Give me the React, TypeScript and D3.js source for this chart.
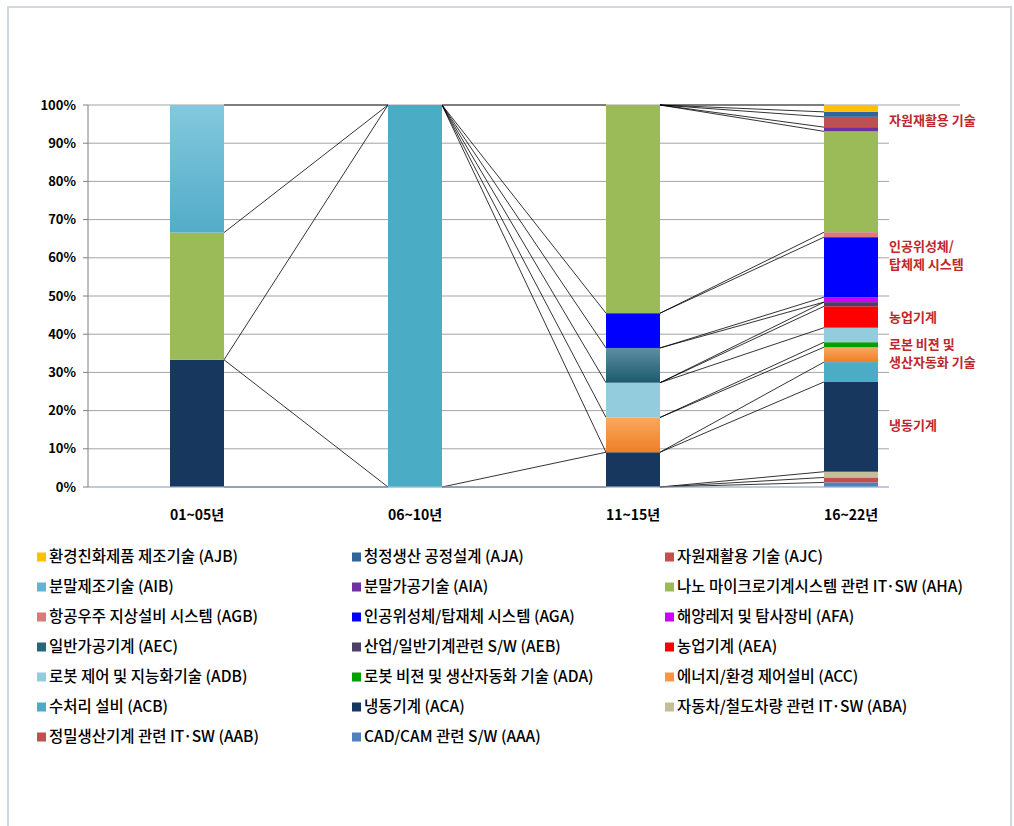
import React from "react";
import * as d3 from "d3";

// ---------- data ----------
const periods = ["01~05년", "06~10년", "11~15년", "16~22년"];

// legend order (row-major, 3 columns)
const seriesCodes = [
  "AJB", "AJA", "AJC", "AIB", "AIA", "AHA", "AGB", "AGA", "AFA", "AEC",
  "AEB", "AEA", "ADB", "ADA", "ACC", "ACB", "ACA", "ABA", "AAB", "AAA",
];
const seriesNames = [
  "환경친화제품 제조기술", "청정생산 공정설계", "자원재활용 기술",
  "분말제조기술", "분말가공기술", "나노 마이크로기계시스템 관련 IT·SW",
  "항공우주 지상설비 시스템", "인공위성체/탑재체 시스템", "해양레저 및 탐사장비",
  "일반가공기계", "산업/일반기계관련 S/W", "농업기계",
  "로봇 제어 및 지능화기술", "로봇 비젼 및 생산자동화 기술", "에너지/환경 제어설비",
  "수처리 설비", "냉동기계", "자동차/철도차량 관련 IT·SW",
  "정밀생산기계 관련 IT·SW", "CAD/CAM 관련 S/W",
];

// share (%) of each series per period, same order as seriesCodes
const share0105 = [0, 0, 0, 33.4, 0, 33.3, 0, 0, 0, 0, 0, 0, 0, 0, 0, 0, 33.3, 0, 0, 0];
const share0610 = [0, 0, 0, 0, 0, 0, 0, 0, 0, 0, 0, 0, 0, 0, 0, 100, 0, 0, 0, 0];
const share1115 = [0, 0, 0, 0, 0, 54.5, 0, 9.1, 0, 9.1, 0, 0, 9.1, 0, 9.1, 0, 9.1, 0, 0, 0];
const share1622 = [1.8, 1.3, 2.7, 0, 1.1, 26.4, 1.3, 15.7, 1.3, 0, 1.1, 5.6, 3.8, 1.3, 3.9, 5.2, 23.5, 1.5, 1.3, 1.2];
const shares = [share0105, share0610, share1115, share1622];

const yTicks = [0, 10, 20, 30, 40, 50, 60, 70, 80, 90, 100];

// call-out labels at the right of the last bar (y in %)
const calloutLines = [
  ["자원재활용 기술"],
  ["인공위성체/", "탑체제 시스템"],
  ["농업기계"],
  ["로본 비젼 및", "생산자동화 기술"],
  ["냉동기계"],
];
const calloutY = [96, 60.5, 44.5, 35, 16];

// ---------- styles ----------
const colors: Record<string, string> = {
  AJB: "#ffc000", AJA: "#31649b", AJC: "#c0504d", AIB: "url(#g-AIB)",
  AIA: "#7030a0", AHA: "#9bbb59", AGB: "#d97b7a", AGA: "#0000ff",
  AFA: "#cc00ff", AEC: "url(#g-AEC)", AEB: "#4d3f66", AEA: "#ff0000",
  ADB: "#93cddd", ADA: "#00a000", ACC: "url(#g-ACC)", ACB: "#4bacc6",
  ACA: "#17375e", ABA: "#c4bd97", AAB: "#c0504d", AAA: "#4f81bd",
};
const swatch: Record<string, string> = {
  ...colors, AIB: "#5fb6d0", AEC: "#2a6577", ACC: "#f79646",
};

const FONT = "'Noto Sans CJK KR', 'Noto Sans', sans-serif";

export default function App() {
  const W = 1014, H = 826;
  const left = 88, right = 960, top = 105, bottom = 487;
  const barW = 54;
  const gridEnd = 889;

  const x = d3.scaleBand<string>().domain(periods).range([left, right]).padding(0);
  const y = d3.scaleLinear().domain([0, 100]).range([bottom, top]);

  // stacking from bottom: reverse of legend order
  const stackKeys = [...seriesCodes].reverse();
  const rows = periods.map((p, i) => {
    const r: Record<string, number | string> = { period: p };
    seriesCodes.forEach((c, j) => (r[c] = shares[i][j]));
    return r;
  });
  const stacked = d3.stack<any>().keys(stackKeys)(rows as any);

  const cx = (p: string) => (x(p) as number) + x.bandwidth() / 2;

  // series lines (deduplicated so overlapping ones do not darken)
  const seen = new Set<string>();
  const segs: { k: string; x1: number; y1: number; x2: number; y2: number }[] = [];
  stacked.forEach((s) =>
    periods.slice(0, -1).forEach((p, i) => {
      const seg = {
        x1: cx(p) + barW / 2, y1: y(s[i][1]),
        x2: cx(periods[i + 1]) - barW / 2, y2: y(s[i + 1][1]),
      };
      const key = [seg.x1, seg.y1, seg.x2, seg.y2].map((v) => v.toFixed(1)).join(",");
      if (!seen.has(key)) {
        seen.add(key);
        segs.push({ k: key, ...seg });
      }
    })
  );

  return (
    <svg width={W} height={H} style={{ position: "absolute", left: 0, top: 0, background: "#fff" }}>
      <defs>
        <linearGradient id="g-AIB" x1="0" y1="0" x2="0" y2="1">
          <stop offset="0" stopColor="#84c8de" />
          <stop offset="1" stopColor="#53acc8" />
        </linearGradient>
        <linearGradient id="g-AEC" x1="0" y1="0" x2="0" y2="1">
          <stop offset="0" stopColor="#5d8fa0" />
          <stop offset="1" stopColor="#1b5a6e" />
        </linearGradient>
        <linearGradient id="g-ACC" x1="0" y1="0" x2="0" y2="1">
          <stop offset="0" stopColor="#fba85f" />
          <stop offset="1" stopColor="#ee7f26" />
        </linearGradient>
      </defs>

      {/* frame */}
      <rect x={8} y={7} width={1003} height={H + 20} fill="none" stroke="#d3d8e0" strokeWidth={2} />

      {/* gridlines */}
      {yTicks.map((t) => (
        <line key={"g" + t} x1={left} x2={t === 100 ? right : gridEnd} y1={y(t)} y2={y(t)}
          stroke="#8c8c8c" strokeWidth={0.8} />
      ))}

      {/* series lines */}
      {segs.map((s) => (
        <line key={s.k} x1={s.x1} y1={s.y1} x2={s.x2} y2={s.y2} stroke="#000" strokeWidth={0.8} />
      ))}

      {/* bars */}
      {stacked.map((s) =>
        s.map((d, i) =>
          d[1] - d[0] > 0 ? (
            <rect key={s.key + "b" + i} x={cx(periods[i]) - barW / 2} width={barW}
              y={y(d[1])} height={y(d[0]) - y(d[1])} fill={colors[s.key]} />
          ) : null
        )
      )}

      {/* axes */}
      <line x1={left} x2={gridEnd} y1={bottom} y2={bottom} stroke="#a9c6e3" strokeWidth={1.2} />
      <line x1={left} x2={left} y1={top} y2={bottom} stroke="#7f7f7f" strokeWidth={1} />
      {yTicks.map((t) => (
        <g key={"t" + t}>
          <line x1={left - 5} x2={left} y1={y(t)} y2={y(t)} stroke="#7f7f7f" />
          <text x={76} y={y(t)} dy="0.35em" textAnchor="end" fontFamily={FONT}
            fontSize={13} fontWeight="bold" fill="#000">{t}%</text>
        </g>
      ))}
      {periods.map((p) => (
        <text key={p} x={cx(p)} y={515} dy="0.35em" textAnchor="middle" fontFamily={FONT}
          fontSize={14} fontWeight="bold" fill="#000">{p}</text>
      ))}

      {/* call-outs */}
      {calloutLines.map((ls, i) =>
        ls.map((l, k) => (
          <text key={"c" + i + k} x={889} y={y(calloutY[i]) + (k - (ls.length - 1) / 2) * 18}
            dy="0.35em" fontFamily={FONT} fontSize={13} fontWeight="bold" fill="#c0272d">{l}</text>
        ))
      )}

      {/* legend */}
      {seriesCodes.map((c, i) => {
        const colX = [37, 352, 665][i % 3];
        const rowY = 557 + Math.floor(i / 3) * 30;
        return (
          <g key={"l" + c}>
            <rect x={colX} y={rowY - 4.5} width={9} height={9} fill={swatch[c]} />
            <text x={colX + 12} y={rowY} dy="0.35em" fontFamily={FONT} fontSize={15.5}
              fontWeight={500} fill="#000">{`${seriesNames[i]} (${c})`}</text>
          </g>
        );
      })}
    </svg>
  );
}
